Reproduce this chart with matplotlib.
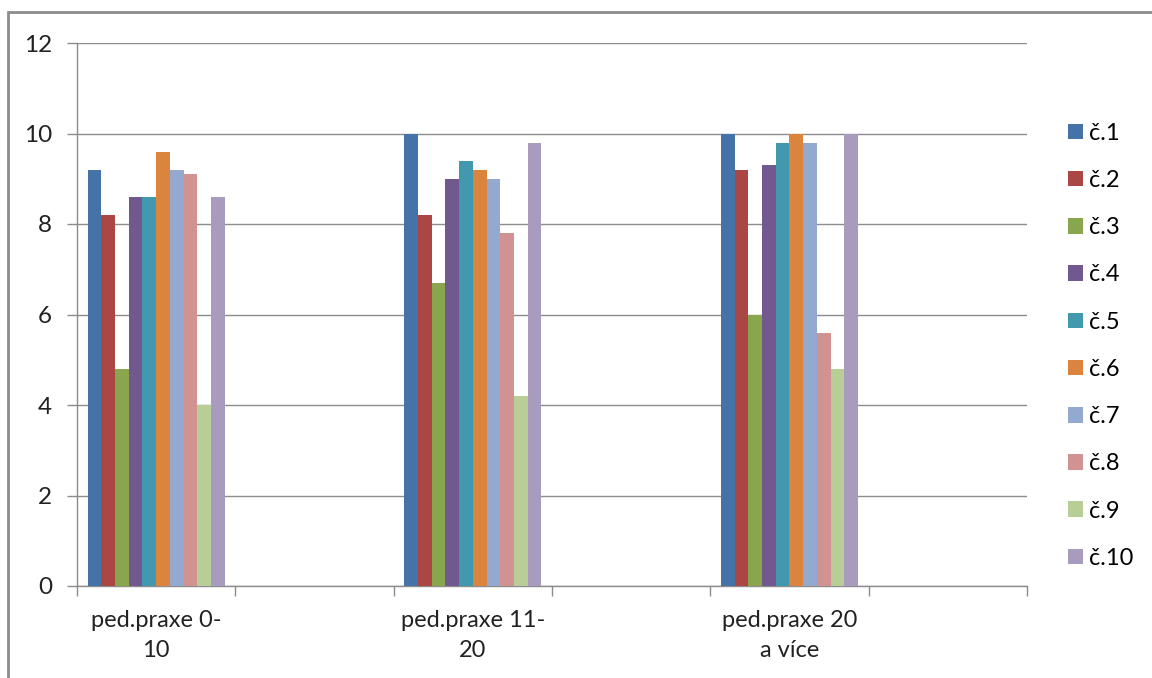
import numpy as np
import matplotlib.pyplot as plt
from matplotlib.patches import Rectangle

plt.rcParams['font.family'] = ['Lato', 'DejaVu Sans']

# groups sit in every other category slot (Excel left blank slots between them)
groups = ["ped.praxe 0-\n10", "ped.praxe 11-\n20", "ped.praxe 20\na více"]
group_slots = [0, 2, 4]
n_slots = 6
series = ["č.1", "č.2", "č.3", "č.4", "č.5", "č.6", "č.7", "č.8", "č.9", "č.10"]
values = [
    [9.2, 10.0, 10.0],
    [8.2, 8.2, 9.2],
    [4.8, 6.7, 6.0],
    [8.6, 9.0, 9.3],
    [8.6, 9.4, 9.8],
    [9.6, 9.2, 10.0],
    [9.2, 9.0, 9.8],
    [9.1, 7.8, 5.6],
    [4.0, 4.2, 4.8],
    [8.6, 9.8, 10.0],
]
colors = ["#4572A7", "#AA4643", "#89A54E", "#71588F", "#4198AF",
          "#DB843D", "#93A9CF", "#D19392", "#B9CD96", "#A99BBD"]

fig = plt.figure(figsize=(11.52, 6.78), dpi=100)
ax = fig.add_axes([77 / 1152, 1 - 586 / 678, 950 / 1152, 543 / 678])

grey = "#8c8c8c"
bw = 0.0867
x = np.array(group_slots, dtype=float)
for i, (name, vals) in enumerate(zip(series, values)):
    off = (i - (len(series) - 1) / 2) * bw
    ax.bar(x + off, vals, width=bw, color=colors[i], label=name, zorder=3)

ax.set_xlim(-0.5, n_slots - 0.5)
ax.set_ylim(0, 12)
ax.set_yticks(range(0, 13, 2))
ax.yaxis.grid(True, color=grey, linewidth=1, zorder=0)

ax.set_xticks(np.arange(-0.5, n_slots, 1.0))
ax.set_xticklabels([])
ax.set_xticks(group_slots, minor=True)
ax.set_xticklabels(groups, minor=True, fontsize=17, color="#222222", linespacing=1.55)
ax.tick_params(axis="x", which="minor", length=0, pad=17)
ax.tick_params(axis="x", which="major", length=7, color=grey, width=1)
ax.tick_params(axis="y", length=7, color=grey, width=1, labelsize=17.5, pad=11, labelcolor="#222222")

for s in ["top", "right"]:
    ax.spines[s].set_visible(False)
for s in ["left", "bottom"]:
    ax.spines[s].set_color(grey)
    ax.spines[s].set_linewidth(1)

fig.legend(loc="center left", bbox_to_anchor=(0.927, 0.49), frameon=False,
           fontsize=17, handlelength=0.63, handleheight=0.63, handletextpad=0.25,
           labelspacing=1.11, borderpad=0, borderaxespad=0)

# outer chart frame
fig.patches.append(Rectangle((8 / 1152, -0.01), 1.1, 1 - 12 / 678 + 0.01,
                             transform=fig.transFigure, fill=False,
                             edgecolor=grey, linewidth=2))

fig.savefig("out.png", dpi=100)
